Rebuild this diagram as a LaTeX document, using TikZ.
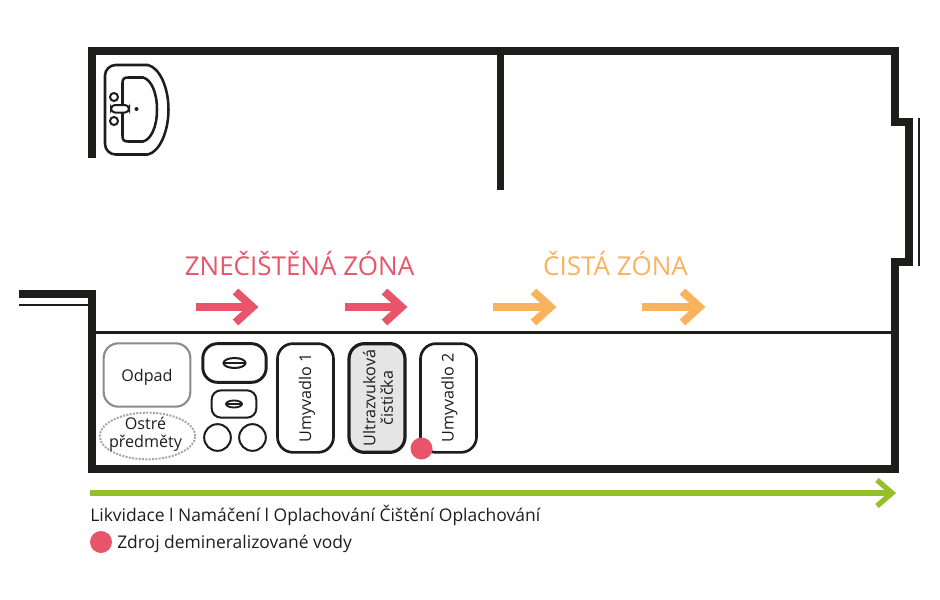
\documentclass[tikz,border=0pt]{standalone}
\usepackage{fontspec}
\usetikzlibrary{shapes.geometric}
\setmainfont{Open Sans}
\definecolor{wallc}{HTML}{1D1D1B}
\definecolor{redz}{HTML}{E8556A}
\definecolor{orz}{HTML}{F9B35C}
\definecolor{grn}{HTML}{95BF2B}
\tikzset{
  x=0.75pt,y=-0.75pt,
  wall/.style={line width=6pt,draw=wallc,miter limit=10},
  thinwall/.style={line width=1.6pt,draw=wallc},
  unit/.style={draw=wallc,line width=2pt,rounded corners=11.5pt,fill=white},
  lbl/.style={font=\fontsize{12.1}{14}\selectfont,text=wallc,align=center,inner sep=0pt},
  zone/.style={font=\fontsize{19.5}{22}\selectfont,inner sep=0pt},
  legend/.style={font=\fontsize{13.1}{15}\selectfont,text=wallc,inner sep=0pt,anchor=west},
  flow/.style={line width=6pt},
  flowhead/.style={line width=6pt,miter limit=10},
  basin/.style={wallc,line width=1.9pt},
}
\newcommand{\zonearrow}[4]{% colour, x start, x tip, y
  \draw[flow,#1] (#2,#4) -- (#3-5,#4);
  \draw[flowhead,#1] (#3-22.5,#4-15.5) -- (#3-5.5,#4) -- (#3-22.5,#4+15.5);
}
\begin{document}
\begin{tikzpicture}
\useasboundingbox (0,0) rectangle (940,600);
% walls
\draw[wall] (92,158) -- (92,51) -- (894.5,51) -- (894.5,122) -- (908.5,122) -- (908.5,262) -- (894.5,262) -- (894.5,468.5) -- (92,468.5) -- (92,294) -- (19,294);
\draw[line width=5.4pt,draw=wallc] (500.5,51) -- (500.5,190);
\draw[thinwall] (919,118) -- (919,266);
\draw[thinwall] (19,305) -- (92,305);
\draw[line width=2.2pt,draw=wallc] (92,332.5) -- (894.5,332.5);
% washbasin
\draw[basin,rounded corners=8pt] (148,65) -- (105,65) -- (105,154.5) -- (148,154.5);
\draw[basin] (148,65) .. controls (160,68) and (168.5,88) .. (168.5,109.5) .. controls (168.5,131) and (160,151.5) .. (148,154.5);
\draw[basin] (143,77.5) .. controls (151,79.5) and (157,92) .. (157,109.5) .. controls (157,127) and (151,139.5) .. (143,141.5) -- (128,141.5) .. controls (124,141.5) and (122.5,140) .. (122.5,136) -- (122.5,83) .. controls (122.5,79) and (124,77.5) .. (128,77.5) -- cycle;
\draw[wallc,line width=1.5pt,fill=white,rounded corners=3pt] (111,105) rectangle (129,112.5);
\draw[wallc,line width=1.5pt] (114,97) circle[radius=4];
\draw[wallc,line width=1.5pt] (114,121) circle[radius=4];
\fill[wallc] (136.5,109) circle[radius=2];
% waste
\node[draw=gray!90,line width=1.6pt,rounded corners=11pt,minimum width=65pt,minimum height=47.5pt,lbl,text depth=0pt] (odpad) at (147,375) {Odpad};
\node[draw=gray!70,line width=1.5pt,densely dotted,ellipse,inner sep=0pt,minimum width=71.5pt,minimum height=35pt] (ostre) at (147.5,436) {};
\node[lbl] (ostret) at (145.5,434) {Ostré\\[-0.5pt]předměty};
% small basins
\node[unit,minimum width=47.5pt,minimum height=29pt,rounded corners=11pt,line width=2.2pt] (sinkA) at (234.5,363) {};
\draw[wallc,line width=1.5pt] (sinkA.center) ellipse[x radius=11,y radius=5];
\draw[wallc,line width=1.1pt] (223.5,363) -- (245.5,363);
\node[unit,minimum width=33.5pt,minimum height=20.5pt,rounded corners=7pt,line width=1.5pt] (sinkB) at (234,404) {};
\draw[wallc,line width=1.4pt] (sinkB.center) ellipse[x radius=8,y radius=3.5];
\draw[wallc,line width=1pt] (226,404) -- (242,404);
\node[circle,draw=wallc,line width=1.5pt,minimum size=20pt,inner sep=0pt] (bowlA) at (217.5,437.5) {};
\node[circle,draw=wallc,line width=1.5pt,minimum size=20pt,inner sep=0pt] (bowlB) at (252.5,437.5) {};
% units
\node[unit,minimum width=42pt,minimum height=81.5pt] (u1) at (305.5,398) {};
\node[lbl,rotate=90] (u1t) at (307,398) {Umyvadlo 1};
\node[unit,fill=gray!20,minimum width=42pt,minimum height=81.5pt,line width=2.4pt] (ultra) at (377,398) {};
\node[lbl,rotate=90] (ultrat) at (378,398) {Ultrazvuková\\[-1pt]čistička};
\node[unit,minimum width=42pt,minimum height=81.5pt] (u2) at (448.5,398) {};
\node[lbl,rotate=90] (u2t) at (449.5,398) {Umyvadlo 2};
\node[circle,fill=redz,minimum size=16.5pt,inner sep=0pt] (src) at (421.5,448.5) {};
% zones
\node[zone,text=redz] (dirty) at (299.5,264) {ZNEČIŠTĚNÁ ZÓNA};
\node[zone,text=orz] (clean) at (615.5,264) {ČISTÁ ZÓNA};
\zonearrow{redz}{196}{258}{307}
\zonearrow{redz}{345}{407}{307}
\zonearrow{orz}{493}{556}{307}
\zonearrow{orz}{642}{705}{307}
% process arrow
\coordinate (pstart) at (90,493);
\coordinate (pend) at (893,493);
\draw[line width=4pt,grn] (pstart) -- (pend);
\draw[line width=4pt,grn,miter limit=10] (877,480) -- (892,493) -- (877,506);
% legend
\node[legend] (steps) at (90,515) {Likvidace l Namáčení l Oplachování Čištění Oplachování};
\node[circle,fill=redz,minimum size=16.5pt,inner sep=0pt] (key) at (101,542) {};
\node[legend] (keyt) at (117,543.5) {Zdroj demineralizované vody};
\end{tikzpicture}
\end{document}
